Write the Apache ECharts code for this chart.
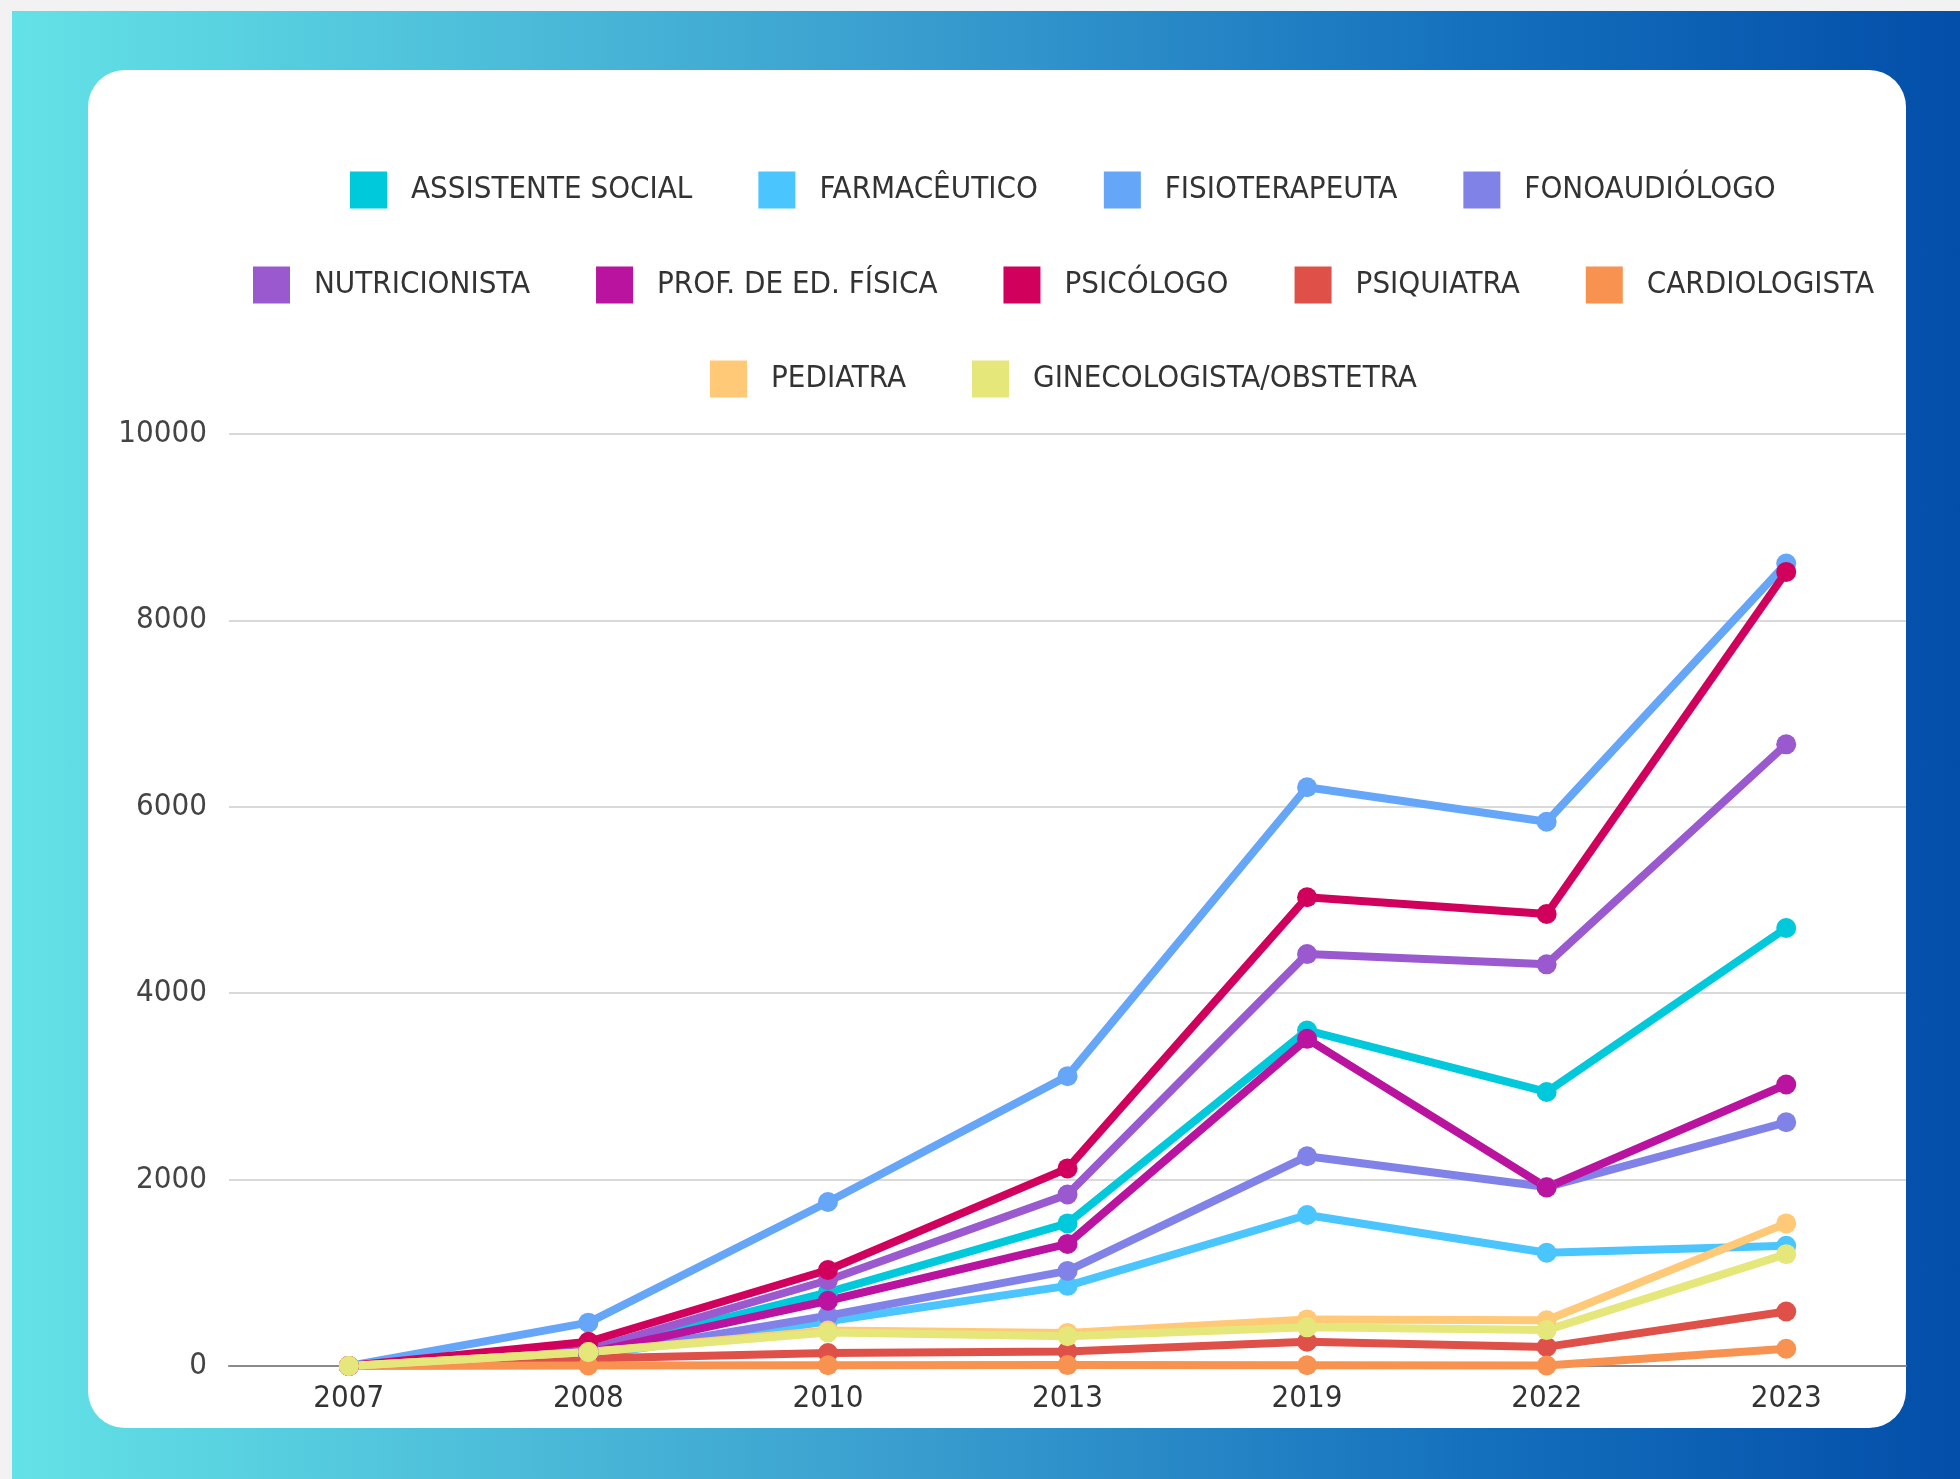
<!DOCTYPE html>
<html>
<head>
<meta charset="utf-8">
<script src="https://cdn.jsdelivr.net/npm/echarts@6/dist/echarts.min.js"></script>
<style>
  html, body { margin: 0; padding: 0; width: 1960px; height: 1479px; background: #f2f2f2; overflow: hidden; }
  #bg { position: absolute; left: 12px; top: 11px; right: 0; bottom: 0;
        background: linear-gradient(90deg, #63e2e6 0%, #3a9fcf 45%, #1470bd 75%, #034ea9 100%); }
  #card { position: absolute; left: 88px; top: 70px; width: 1818px; height: 1358px;
          background: #ffffff; border-radius: 37px; }
  #chart { position: absolute; left: 0; top: 0; width: 1960px; height: 1479px; }
</style>
</head>
<body>
<div id="bg"></div>
<div id="card"></div>
<div id="chart"></div>
<script>
const categories = ['2007', '2008', '2010', '2013', '2019', '2022', '2023'];

const names = ['ASSISTENTE SOCIAL', 'FARMACÊUTICO', 'FISIOTERAPEUTA', 'FONOAUDIÓLOGO',
  'NUTRICIONISTA', 'PROF. DE ED. FÍSICA', 'PSICÓLOGO', 'PSIQUIATRA', 'CARDIOLOGISTA',
  'PEDIATRA', 'GINECOLOGISTA/OBSTETRA'];

const assistenteSocial = [0, 150, 790, 1530, 3600, 2940, 4700];
const farmaceutico     = [0, 110, 480, 860, 1620, 1215, 1290];
const fisioterapeuta   = [0, 465, 1760, 3110, 6210, 5840, 8610];
const fonoaudiologo    = [0, 110, 540, 1020, 2250, 1920, 2615];
const nutricionista    = [0, 175, 920, 1840, 4420, 4310, 6670];
const profEdFisica     = [0, 140, 700, 1310, 3510, 1915, 3020];
const psicologo        = [0, 260, 1030, 2120, 5030, 4850, 8520];
const psiquiatra       = [0, 80, 140, 155, 260, 205, 585];
const cardiologista    = [0, 5, 8, 10, 8, 5, 185];
const pediatra         = [0, 150, 380, 355, 500, 490, 1530];
const ginecologista    = [0, 150, 360, 320, 415, 385, 1200];

const yTicks = [0, 2000, 4000, 6000, 8000, 10000];

const colors = ['#00c9db', '#4bc5fd', '#66a6f9', '#8182e7', '#9b59d0', '#b9139f',
  '#d0005c', '#df5148', '#f79251', '#ffc978', '#e5e77a'];

const allData = [assistenteSocial, farmaceutico, fisioterapeuta, fonoaudiologo, nutricionista,
  profEdFisica, psicologo, psiquiatra, cardiologista, pediatra, ginecologista];

const legendRows = [names.slice(0, 4), names.slice(4, 9), names.slice(9)];
const rowCenters = [185, 280, 374];

const FONT = '"Liberation Sans Narrow", "DejaVu Sans Condensed", sans-serif';
const legendFontSize = 31;
const iconW = 37, iconH = 37, textPad = 19, itemGap = 66;
const legendCenterX = 1058;

const cv = document.createElement('canvas').getContext('2d');
cv.font = legendFontSize + 'px ' + FONT;
function rowWidth(row) {
  let w = 0;
  row.forEach((n, i) => {
    w += iconW + 5 + textPad + cv.measureText(n).width;
    if (i > 0) w += itemGap;
  });
  return w;
}

const legends = legendRows.map((row, i) => ({
  data: row,
  orient: 'horizontal',
  left: Math.round(legendCenterX - rowWidth(row) / 2),
  top: rowCenters[i] - iconH / 2,
  itemWidth: iconW,
  itemHeight: iconH,
  itemGap: itemGap,
  icon: 'rect',
  textStyle: { fontFamily: FONT, fontSize: legendFontSize, color: '#333333', padding: [0, 0, 0, textPad] }
}));

const chart = echarts.init(document.getElementById('chart'), null, { renderer: 'canvas' });
chart.setOption({
  animation: false,
  color: colors,
  legend: legends,
  grid: { left: 229, right: 54, top: 434, bottom: 113, containLabel: false },
  xAxis: {
    type: 'category',
    data: categories,
    boundaryGap: true,
    axisTick: { show: false },
    axisLine: { show: true, lineStyle: { color: '#8a8a8a', width: 2 } },
    axisLabel: { fontFamily: FONT, fontSize: 31, color: '#333333', margin: 17 }
  },
  yAxis: {
    type: 'value',
    min: yTicks[0],
    max: yTicks[yTicks.length - 1],
    interval: yTicks[1] - yTicks[0],
    axisLine: { show: false },
    axisTick: { show: false },
    splitLine: { lineStyle: { color: '#cccccc', width: 1.5 } },
    axisLabel: { fontFamily: FONT, fontSize: 31, color: '#444444', margin: 22,
                 formatter: v => String(v) }
  },
  series: names.map((n, i) => ({
    name: n,
    type: 'line',
    data: allData[i],
    symbol: 'circle',
    symbolSize: 20,
    showSymbol: true,
    lineStyle: { width: 8, color: colors[i], join: 'round' },
    itemStyle: { color: colors[i] },
    emphasis: { disabled: true }
  }))
});
</script>
</body>
</html>
